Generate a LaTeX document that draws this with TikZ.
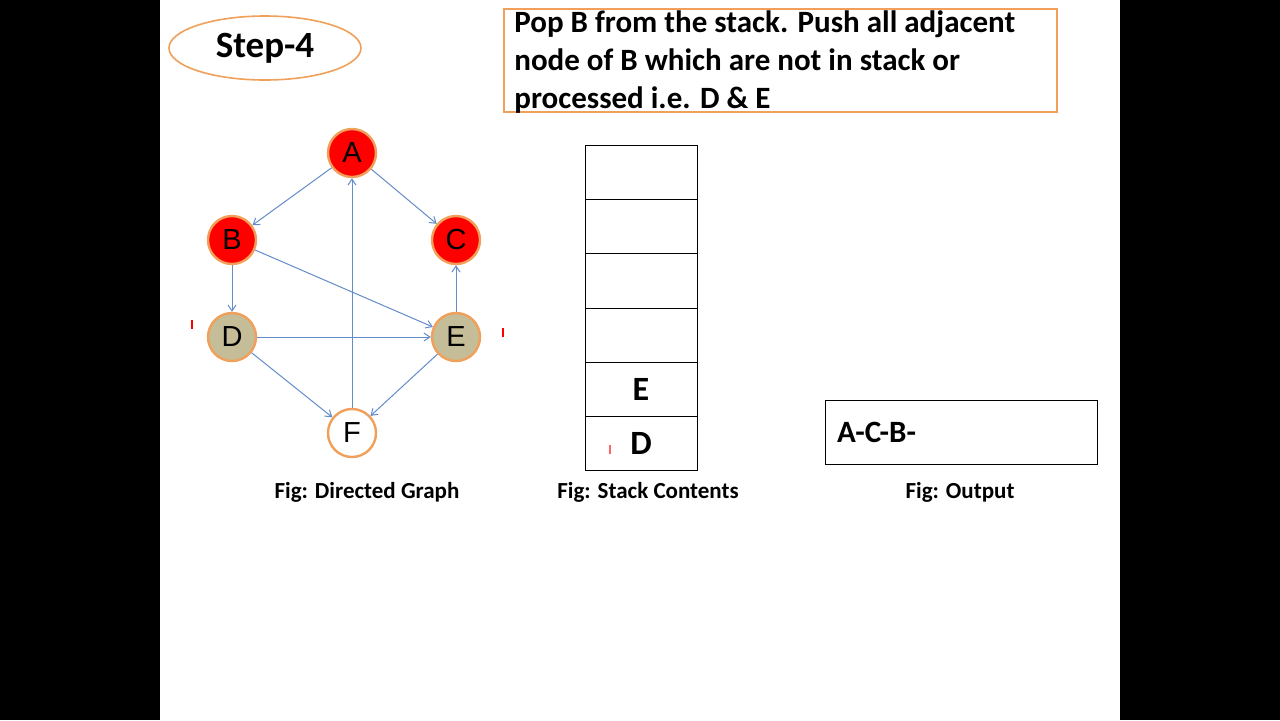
\documentclass[tikz,border=0pt]{standalone}
\usepackage{fontspec}
\setmainfont{Carlito}
\newfontfamily\arialf{Liberation Sans}
\usetikzlibrary{arrows.meta,shapes.geometric}
\definecolor{ored}{RGB}{255,0,0}
\definecolor{oring}{RGB}{240,160,90}
\definecolor{tan}{RGB}{196,189,151}
\definecolor{eblue}{RGB}{100,140,200}
\begin{document}
\begin{tikzpicture}[x=0.5pt,y=-0.5pt,
  gnode/.style={circle,draw=oring,line width=1.2pt,minimum size=24pt,inner sep=0pt,font=\arialf\fontsize{14.5}{15}\selectfont},
  edge/.style={draw=eblue,line width=0.5pt,-{Straight Barb[length=3pt,width=4pt]}},
  figcap/.style={font=\bfseries\fontsize{11.5}{13}\selectfont},
  tick/.style={draw=red,line width=1.2pt}]
\fill[black] (0,0) rectangle (1280,720);
\fill[white] (160,0) rectangle (1120,720);
\useasboundingbox (0,0) rectangle (1280,720);
\node[draw=oring,line width=0.8pt,ellipse,minimum width=96pt,minimum height=32pt,inner sep=0pt,font=\bfseries\fontsize{18.5}{20}\selectfont] (title) at (265,48) {Step-4};
\draw[draw=oring,line width=0.8pt] (504,9) rectangle (1057,112);
\node[anchor=north west,inner sep=0pt,align=left,font=\bfseries\fontsize{15.5}{19}\selectfont] (info) at (514,10) {Pop B from the stack. Push all adjacent\\node of B which are not in stack or\\processed i.e. D \& E};
\node[gnode,fill=ored] (A) at (352,153) {A};
\node[gnode,fill=ored] (B) at (232,240) {B};
\node[gnode,fill=ored] (C) at (456,240) {C};
\node[gnode,fill=tan] (D) at (232,337) {D};
\node[gnode,fill=tan] (E) at (456,337) {E};
\node[gnode,fill=white] (F) at (352,433) {F};
\draw[edge] (A) -- (B);
\draw[edge] (A) -- (C);
\draw[edge] (B) -- (D);
\draw[edge] (B) -- (E);
\draw[edge] (D) -- (E);
\draw[edge] (E) -- (C);
\draw[edge] (D) -- (F);
\draw[edge] (E) -- (F);
\draw[edge] (F) -- (A);
\draw[tick] (192,320) -- (192,329);
\draw[tick] (503,328) -- (503,337);
\draw[line width=0.5pt] (585,145) rectangle (697,470);
\foreach \yy in {199,253,308,362,416} \draw[line width=0.5pt] (585,\yy) -- (697,\yy);
\node[font=\bfseries\fontsize{17}{17}\selectfont] (sE) at (641,389) {E};
\node[font=\bfseries\fontsize{17}{17}\selectfont] (sD) at (641,443) {D};
\draw[draw=red!60,line width=1.2pt] (610,445) -- (610,454);
\node[draw,line width=0.5pt,anchor=north west,minimum width=136pt,minimum height=32pt,inner sep=0pt] (out) at (825,400) {};
\node[anchor=west,font=\bfseries\fontsize{15.5}{17}\selectfont] (outt) at (830,432) {A-C-B-};
\node[figcap] (c1) at (367,492) {Fig: Directed Graph};
\node[figcap] (c2) at (648,492) {Fig: Stack Contents};
\node[figcap] (c3) at (960,492) {Fig: Output};
\end{tikzpicture}
\end{document}
